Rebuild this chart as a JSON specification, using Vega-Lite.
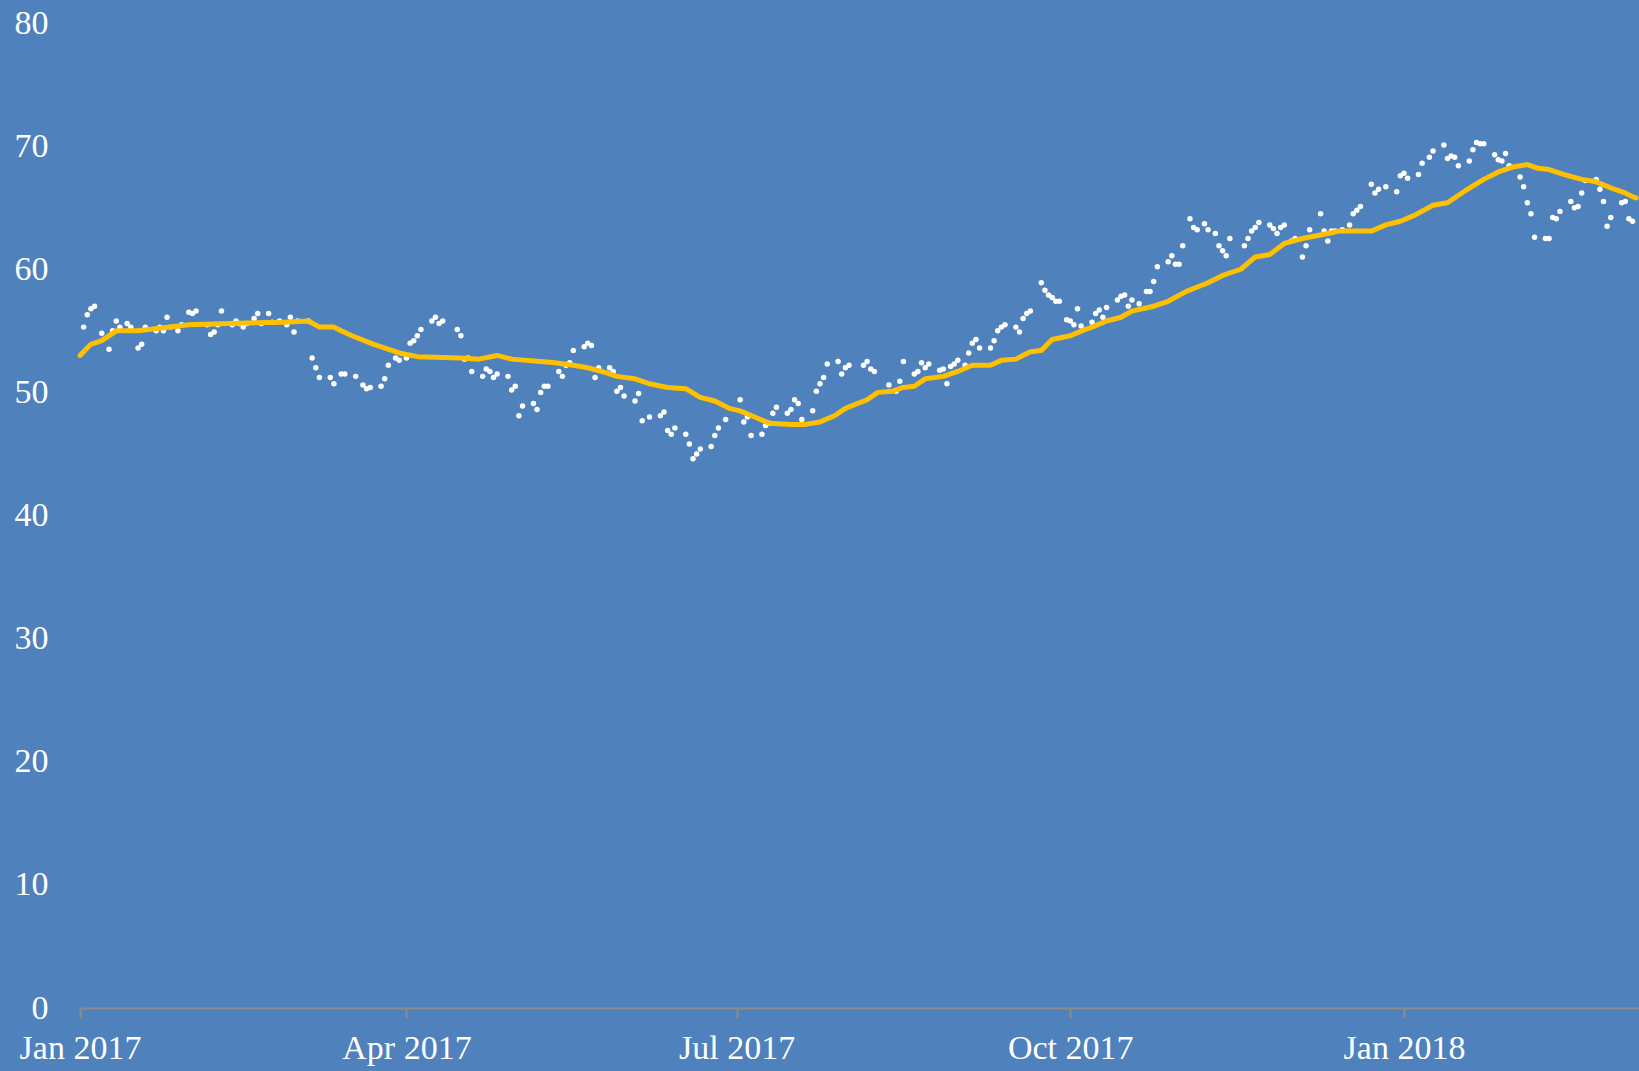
{
  "$schema": "https://vega.github.io/schema/vega-lite/v6.json",
  "autosize": {"type": "none"},
  "width": 1559,
  "height": 985,
  "padding": {"left": 80, "top": 23, "right": 0, "bottom": 63},
  "background": "#4F81BD",
  "config": {"view": {"stroke": null}},
  "datasets": {
    "pts": [
      {"date":"2017-01-02","value":55.3},{"date":"2017-01-03","value":56.3},{"date":"2017-01-04","value":56.8},{"date":"2017-01-05","value":57.0},
      {"date":"2017-01-07","value":54.8},{"date":"2017-01-09","value":53.5},{"date":"2017-01-10","value":55.0},{"date":"2017-01-11","value":55.8},
      {"date":"2017-01-12","value":55.3},{"date":"2017-01-14","value":55.6},{"date":"2017-01-15","value":55.3},{"date":"2017-01-17","value":53.6},
      {"date":"2017-01-18","value":53.9},{"date":"2017-01-19","value":55.3},{"date":"2017-01-22","value":55.0},{"date":"2017-01-23","value":55.3},
      {"date":"2017-01-24","value":55.0},{"date":"2017-01-25","value":56.1},{"date":"2017-01-26","value":55.3},{"date":"2017-01-28","value":55.0},
      {"date":"2017-01-29","value":55.5},{"date":"2017-01-31","value":56.5},{"date":"2017-02-01","value":56.4},{"date":"2017-02-02","value":56.6},
      {"date":"2017-02-05","value":55.5},{"date":"2017-02-06","value":54.7},{"date":"2017-02-07","value":54.9},{"date":"2017-02-08","value":55.5},
      {"date":"2017-02-09","value":56.6},{"date":"2017-02-12","value":55.5},{"date":"2017-02-13","value":55.8},{"date":"2017-02-14","value":55.6},
      {"date":"2017-02-15","value":55.3},{"date":"2017-02-16","value":55.6},{"date":"2017-02-18","value":56.0},{"date":"2017-02-19","value":56.4},
      {"date":"2017-02-20","value":55.6},{"date":"2017-02-22","value":56.4},{"date":"2017-02-23","value":55.7},{"date":"2017-02-25","value":55.8},
      {"date":"2017-02-27","value":55.5},{"date":"2017-02-28","value":56.1},{"date":"2017-03-01","value":54.9},{"date":"2017-03-02","value":55.8},
      {"date":"2017-03-05","value":55.8},{"date":"2017-03-06","value":52.8},{"date":"2017-03-07","value":52.0},{"date":"2017-03-08","value":51.2},
      {"date":"2017-03-11","value":51.2},{"date":"2017-03-12","value":50.7},{"date":"2017-03-14","value":51.5},{"date":"2017-03-15","value":51.5},
      {"date":"2017-03-18","value":51.3},{"date":"2017-03-20","value":50.6},{"date":"2017-03-21","value":50.3},{"date":"2017-03-22","value":50.4},
      {"date":"2017-03-25","value":50.5},{"date":"2017-03-26","value":51.1},{"date":"2017-03-27","value":52.2},{"date":"2017-03-29","value":52.8},
      {"date":"2017-03-30","value":52.6},{"date":"2017-04-01","value":52.8},{"date":"2017-04-02","value":54.0},{"date":"2017-04-03","value":54.2},
      {"date":"2017-04-04","value":54.6},{"date":"2017-04-05","value":55.1},{"date":"2017-04-08","value":55.8},{"date":"2017-04-09","value":56.1},
      {"date":"2017-04-10","value":55.6},{"date":"2017-04-11","value":55.8},{"date":"2017-04-15","value":55.1},{"date":"2017-04-16","value":54.6},
      {"date":"2017-04-17","value":52.7},{"date":"2017-04-18","value":52.8},{"date":"2017-04-19","value":51.7},{"date":"2017-04-22","value":51.3},
      {"date":"2017-04-23","value":51.9},{"date":"2017-04-24","value":51.7},{"date":"2017-04-25","value":51.2},{"date":"2017-04-26","value":51.5},
      {"date":"2017-04-29","value":51.3},{"date":"2017-04-30","value":50.2},{"date":"2017-05-01","value":50.5},{"date":"2017-05-02","value":48.1},
      {"date":"2017-05-03","value":48.9},{"date":"2017-05-06","value":49.1},{"date":"2017-05-07","value":48.6},{"date":"2017-05-08","value":50.0},
      {"date":"2017-05-09","value":50.5},{"date":"2017-05-10","value":50.5},{"date":"2017-05-13","value":51.7},{"date":"2017-05-14","value":51.3},
      {"date":"2017-05-15","value":52.2},{"date":"2017-05-16","value":52.4},{"date":"2017-05-17","value":53.4},{"date":"2017-05-20","value":53.7},
      {"date":"2017-05-21","value":54.0},{"date":"2017-05-22","value":53.8},{"date":"2017-05-23","value":51.2},{"date":"2017-05-24","value":52.0},
      {"date":"2017-05-27","value":52.0},{"date":"2017-05-28","value":51.7},{"date":"2017-05-29","value":50.1},{"date":"2017-05-30","value":50.4},
      {"date":"2017-05-31","value":49.7},{"date":"2017-06-03","value":49.3},{"date":"2017-06-04","value":49.9},{"date":"2017-06-05","value":47.7},
      {"date":"2017-06-07","value":48.0},{"date":"2017-06-10","value":48.1},{"date":"2017-06-11","value":48.4},{"date":"2017-06-12","value":46.9},
      {"date":"2017-06-13","value":46.6},{"date":"2017-06-14","value":47.1},{"date":"2017-06-17","value":46.6},{"date":"2017-06-18","value":45.8},
      {"date":"2017-06-19","value":44.6},{"date":"2017-06-20","value":45.0},{"date":"2017-06-21","value":45.4},{"date":"2017-06-24","value":45.6},
      {"date":"2017-06-25","value":46.5},{"date":"2017-06-26","value":47.1},{"date":"2017-06-28","value":47.8},{"date":"2017-07-02","value":49.4},
      {"date":"2017-07-03","value":47.6},{"date":"2017-07-04","value":48.0},{"date":"2017-07-05","value":46.5},{"date":"2017-07-08","value":46.6},
      {"date":"2017-07-09","value":47.3},{"date":"2017-07-10","value":47.5},{"date":"2017-07-11","value":48.3},{"date":"2017-07-12","value":48.8},
      {"date":"2017-07-15","value":48.3},{"date":"2017-07-16","value":48.6},{"date":"2017-07-17","value":49.4},{"date":"2017-07-18","value":49.1},
      {"date":"2017-07-19","value":47.8},{"date":"2017-07-22","value":48.5},{"date":"2017-07-23","value":50.1},{"date":"2017-07-24","value":50.7},
      {"date":"2017-07-25","value":51.2},{"date":"2017-07-26","value":52.3},{"date":"2017-07-29","value":52.5},{"date":"2017-07-30","value":51.5},
      {"date":"2017-07-31","value":52.0},{"date":"2017-08-01","value":52.2},{"date":"2017-08-05","value":52.2},{"date":"2017-08-06","value":52.5},
      {"date":"2017-08-07","value":51.9},{"date":"2017-08-08","value":51.7},{"date":"2017-08-12","value":50.6},{"date":"2017-08-14","value":50.1},
      {"date":"2017-08-15","value":50.9},{"date":"2017-08-16","value":52.5},{"date":"2017-08-19","value":51.5},{"date":"2017-08-20","value":51.7},
      {"date":"2017-08-21","value":52.4},{"date":"2017-08-22","value":52.0},{"date":"2017-08-23","value":52.3},{"date":"2017-08-26","value":51.8},
      {"date":"2017-08-27","value":51.9},{"date":"2017-08-28","value":50.7},{"date":"2017-08-29","value":52.1},{"date":"2017-08-30","value":52.3},
      {"date":"2017-08-31","value":52.6},{"date":"2017-09-02","value":52.2},{"date":"2017-09-03","value":53.2},{"date":"2017-09-04","value":54.0},
      {"date":"2017-09-05","value":54.3},{"date":"2017-09-06","value":53.6},{"date":"2017-09-09","value":53.6},{"date":"2017-09-10","value":54.2},
      {"date":"2017-09-11","value":55.0},{"date":"2017-09-12","value":55.3},{"date":"2017-09-13","value":55.5},{"date":"2017-09-16","value":55.3},
      {"date":"2017-09-17","value":54.9},{"date":"2017-09-18","value":56.0},{"date":"2017-09-19","value":56.4},{"date":"2017-09-20","value":56.6},
      {"date":"2017-09-23","value":58.9},{"date":"2017-09-24","value":58.3},{"date":"2017-09-25","value":57.9},{"date":"2017-09-26","value":57.7},
      {"date":"2017-09-27","value":57.4},{"date":"2017-09-28","value":57.4},{"date":"2017-09-30","value":55.9},{"date":"2017-10-01","value":55.8},
      {"date":"2017-10-02","value":55.5},{"date":"2017-10-03","value":56.8},{"date":"2017-10-04","value":55.4},{"date":"2017-10-07","value":55.7},
      {"date":"2017-10-08","value":56.4},{"date":"2017-10-09","value":56.7},{"date":"2017-10-10","value":56.1},{"date":"2017-10-11","value":56.9},
      {"date":"2017-10-14","value":57.5},{"date":"2017-10-15","value":57.8},{"date":"2017-10-16","value":57.9},{"date":"2017-10-17","value":57.0},
      {"date":"2017-10-18","value":57.5},{"date":"2017-10-20","value":57.2},{"date":"2017-10-22","value":58.2},{"date":"2017-10-23","value":58.2},
      {"date":"2017-10-24","value":59.0},{"date":"2017-10-25","value":60.2},{"date":"2017-10-28","value":60.6},{"date":"2017-10-29","value":61.1},
      {"date":"2017-10-30","value":60.4},{"date":"2017-10-31","value":60.4},{"date":"2017-11-01","value":61.9},{"date":"2017-11-03","value":64.1},
      {"date":"2017-11-04","value":63.4},{"date":"2017-11-05","value":63.2},{"date":"2017-11-07","value":63.7},{"date":"2017-11-08","value":63.2},
      {"date":"2017-11-10","value":62.9},{"date":"2017-11-11","value":61.9},{"date":"2017-11-12","value":61.5},{"date":"2017-11-13","value":61.1},
      {"date":"2017-11-14","value":62.5},{"date":"2017-11-18","value":61.9},{"date":"2017-11-19","value":62.5},{"date":"2017-11-20","value":63.1},
      {"date":"2017-11-21","value":63.4},{"date":"2017-11-22","value":63.8},{"date":"2017-11-25","value":63.6},{"date":"2017-11-26","value":63.3},
      {"date":"2017-11-27","value":62.9},{"date":"2017-11-28","value":63.4},{"date":"2017-11-29","value":63.6},{"date":"2017-12-01","value":62.3},
      {"date":"2017-12-02","value":62.5},{"date":"2017-12-04","value":61.0},{"date":"2017-12-05","value":61.9},{"date":"2017-12-06","value":63.2},
      {"date":"2017-12-09","value":64.5},{"date":"2017-12-10","value":63.1},{"date":"2017-12-11","value":62.3},{"date":"2017-12-12","value":63.1},
      {"date":"2017-12-13","value":63.1},{"date":"2017-12-15","value":63.2},{"date":"2017-12-17","value":63.6},{"date":"2017-12-18","value":64.5},
      {"date":"2017-12-19","value":64.8},{"date":"2017-12-20","value":65.1},{"date":"2017-12-23","value":66.9},{"date":"2017-12-24","value":66.2},
      {"date":"2017-12-25","value":66.5},{"date":"2017-12-27","value":66.7},{"date":"2017-12-30","value":66.3},{"date":"2017-12-31","value":67.6},
      {"date":"2018-01-01","value":67.8},{"date":"2018-01-02","value":67.4},{"date":"2018-01-05","value":67.7},{"date":"2018-01-06","value":68.6},
      {"date":"2018-01-08","value":69.1},{"date":"2018-01-09","value":69.6},{"date":"2018-01-12","value":70.1},{"date":"2018-01-13","value":69.0},
      {"date":"2018-01-14","value":69.2},{"date":"2018-01-15","value":69.1},{"date":"2018-01-16","value":68.4},{"date":"2018-01-19","value":68.8},
      {"date":"2018-01-20","value":69.7},{"date":"2018-01-21","value":70.3},{"date":"2018-01-22","value":70.2},{"date":"2018-01-23","value":70.2},
      {"date":"2018-01-26","value":69.3},{"date":"2018-01-27","value":68.9},{"date":"2018-01-28","value":68.8},{"date":"2018-01-29","value":69.4},
      {"date":"2018-01-30","value":68.4},{"date":"2018-02-02","value":67.5},{"date":"2018-02-03","value":66.7},{"date":"2018-02-04","value":65.4},
      {"date":"2018-02-05","value":64.5},{"date":"2018-02-06","value":62.6},{"date":"2018-02-09","value":62.5},{"date":"2018-02-10","value":62.5},
      {"date":"2018-02-11","value":64.2},{"date":"2018-02-12","value":64.1},{"date":"2018-02-13","value":64.7},{"date":"2018-02-16","value":65.5},
      {"date":"2018-02-17","value":65.0},{"date":"2018-02-18","value":65.1},{"date":"2018-02-19","value":66.2},{"date":"2018-02-20","value":67.2},
      {"date":"2018-02-23","value":67.3},{"date":"2018-02-24","value":66.5},{"date":"2018-02-25","value":65.5},{"date":"2018-02-26","value":63.5},
      {"date":"2018-02-27","value":64.2},{"date":"2018-03-02","value":65.4},{"date":"2018-03-03","value":65.5},{"date":"2018-03-04","value":64.1},
      {"date":"2018-03-05","value":63.9}
    ],
    "ma": [
      {"date":"2017-01-01","value":53.0},{"date":"2017-01-04","value":53.9},{"date":"2017-01-07","value":54.2},{"date":"2017-01-11","value":55.0},
      {"date":"2017-01-17","value":55.0},{"date":"2017-01-31","value":55.5},{"date":"2017-02-11","value":55.6},{"date":"2017-02-26","value":55.7},
      {"date":"2017-03-05","value":55.8},{"date":"2017-03-08","value":55.3},{"date":"2017-03-12","value":55.3},{"date":"2017-03-14","value":55.0},
      {"date":"2017-03-17","value":54.6},{"date":"2017-03-23","value":53.9},{"date":"2017-03-30","value":53.2},{"date":"2017-04-04","value":52.9},
      {"date":"2017-04-16","value":52.8},{"date":"2017-04-21","value":52.7},{"date":"2017-04-26","value":53.0},{"date":"2017-04-30","value":52.7},
      {"date":"2017-05-08","value":52.5},{"date":"2017-05-12","value":52.4},{"date":"2017-05-17","value":52.2},{"date":"2017-05-21","value":52.0},
      {"date":"2017-05-26","value":51.6},{"date":"2017-05-29","value":51.3},{"date":"2017-06-03","value":51.1},{"date":"2017-06-07","value":50.7},
      {"date":"2017-06-12","value":50.4},{"date":"2017-06-17","value":50.3},{"date":"2017-06-21","value":49.6},{"date":"2017-06-25","value":49.3},
      {"date":"2017-06-29","value":48.7},{"date":"2017-07-02","value":48.5},{"date":"2017-07-06","value":48.0},{"date":"2017-07-10","value":47.5},
      {"date":"2017-07-16","value":47.4},{"date":"2017-07-20","value":47.4},{"date":"2017-07-24","value":47.6},{"date":"2017-07-28","value":48.1},
      {"date":"2017-07-31","value":48.7},{"date":"2017-08-06","value":49.4},{"date":"2017-08-09","value":50.0},{"date":"2017-08-13","value":50.1},
      {"date":"2017-08-16","value":50.4},{"date":"2017-08-19","value":50.5},{"date":"2017-08-22","value":51.1},{"date":"2017-08-27","value":51.3},
      {"date":"2017-08-31","value":51.7},{"date":"2017-09-04","value":52.2},{"date":"2017-09-09","value":52.2},{"date":"2017-09-12","value":52.6},
      {"date":"2017-09-16","value":52.7},{"date":"2017-09-20","value":53.3},{"date":"2017-09-23","value":53.4},{"date":"2017-09-26","value":54.3},
      {"date":"2017-10-01","value":54.6},{"date":"2017-10-05","value":55.1},{"date":"2017-10-07","value":55.3},{"date":"2017-10-11","value":55.8},
      {"date":"2017-10-15","value":56.1},{"date":"2017-10-18","value":56.6},{"date":"2017-10-24","value":57.0},{"date":"2017-10-28","value":57.4},
      {"date":"2017-11-02","value":58.2},{"date":"2017-11-08","value":58.9},{"date":"2017-11-12","value":59.5},{"date":"2017-11-17","value":60.0},
      {"date":"2017-11-21","value":61.0},{"date":"2017-11-25","value":61.2},{"date":"2017-11-29","value":62.1},{"date":"2017-12-04","value":62.5},
      {"date":"2017-12-11","value":62.9},{"date":"2017-12-14","value":63.1},{"date":"2017-12-23","value":63.1},{"date":"2017-12-27","value":63.6},
      {"date":"2017-12-31","value":63.9},{"date":"2018-01-04","value":64.4},{"date":"2018-01-09","value":65.2},{"date":"2018-01-13","value":65.4},
      {"date":"2018-01-18","value":66.4},{"date":"2018-01-23","value":67.3},{"date":"2018-01-27","value":67.9},{"date":"2018-01-31","value":68.3},
      {"date":"2018-02-04","value":68.5},{"date":"2018-02-07","value":68.2},{"date":"2018-02-10","value":68.1},{"date":"2018-02-14","value":67.7},
      {"date":"2018-02-19","value":67.3},{"date":"2018-02-23","value":67.1},{"date":"2018-02-28","value":66.5},{"date":"2018-03-03","value":66.2},
      {"date":"2018-03-05","value":65.9},{"date":"2018-03-06","value":65.8}
    ]
  },
  "encoding": {
    "x": {
      "field": "date",
      "type": "temporal",
      "scale": {
        "type": "utc",
        "domain": [
          {"year": 2017, "month": "jan", "date": 1, "utc": true},
          {"year": 2018, "month": "mar", "date": 6, "hours": 19, "utc": true}
        ]
      },
      "axis": {
        "title": null,
        "format": "%b %Y",
        "values": [
          {"year": 2017, "month": "jan", "date": 1, "utc": true},
          {"year": 2017, "month": "apr", "date": 1, "utc": true},
          {"year": 2017, "month": "jul", "date": 1, "utc": true},
          {"year": 2017, "month": "oct", "date": 1, "utc": true},
          {"year": 2018, "month": "jan", "date": 1, "utc": true}
        ],
        "grid": false,
        "domainColor": "#8C8C8C",
        "domainWidth": 2,
        "tickColor": "#8C8C8C",
        "tickWidth": 2,
        "tickSize": 10,
        "labelColor": "#FFFFFF",
        "labelFont": "Liberation Serif",
        "labelFontSize": 34,
        "labelPadding": 13,
        "labelFlush": false,
        "labelOverlap": false
      }
    },
    "y": {
      "field": "value",
      "type": "quantitative",
      "scale": {"domain": [0, 80], "nice": false, "zero": true},
      "axis": {
        "title": null,
        "values": [0, 10, 20, 30, 40, 50, 60, 70, 80],
        "grid": false,
        "domain": false,
        "ticks": false,
        "labelPadding": 32,
        "labelColor": "#FFFFFF",
        "labelFont": "Liberation Serif",
        "labelFontSize": 34,
        "labelFlush": false,
        "labelOverlap": false
      }
    }
  },
  "layer": [
    {
      "data": {"name": "pts"},
      "mark": {"type": "circle", "color": "#FFFFFF", "size": 30, "opacity": 1}
    },
    {
      "data": {"name": "ma"},
      "mark": {"type": "line", "color": "#FFC000", "strokeWidth": 5, "strokeJoin": "round", "strokeCap": "round"}
    }
  ]
}
